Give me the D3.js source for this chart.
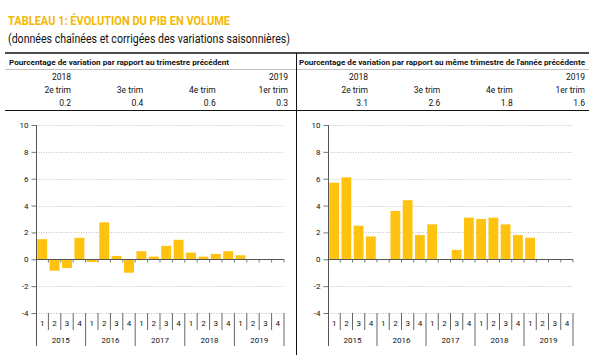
<!DOCTYPE html>
<html>
<head>
<meta charset="utf-8">
<script src="https://cdn.jsdelivr.net/npm/d3@7"></script>
<style>
  html, body { margin: 0; padding: 0; background: #fff; }
  svg { display: block; font-family: Roboto, "Liberation Sans", sans-serif; }
</style>
</head>
<body>
<svg id="chart" width="600" height="355"></svg>
<script>
// ---------- DATA ----------
const titleText = "TABLEAU 1: ÉVOLUTION DU PIB EN VOLUME";
const subtitleText = "(données chaînées et corrigées des variations saisonnières)";
const panelTitles = [
  "Pourcentage de variation par rapport au trimestre précédent",
  "Pourcentage de variation par rapport au même trimestre de l'année précédente"
];
const tableYears = ["2018", "", "", "2019"];
const tableQuarters = ["2e trim", "3e trim", "4e trim", "1er trim"];
const tableQoq = [0.2, 0.4, 0.6, 0.3];
const tableYoy = [3.1, 2.6, 1.8, 1.6];

const quarters = ["1", "2", "3", "4"];
const years = ["2015", "2016", "2017", "2018", "2019"];
// quarter-over-quarter % change, 2015Q1 .. 2019Q4
const qoqValues = [1.5, -0.85, -0.65, 1.6, -0.2, 2.75, 0.25, -1.0, 0.6, 0.2, 1.0, 1.45, 0.5, 0.2, 0.4, 0.6, 0.3, null, null, null];
// year-over-year % change, 2015Q1 .. 2019Q4
const yoyValues = [5.7, 6.1, 2.5, 1.7, 0, 3.6, 4.4, 1.8, 2.6, 0, 0.7, 3.1, 3.0, 3.1, 2.6, 1.8, 1.6, null, null, null];
const yTicks = [-4, -2, 0, 2, 4, 6, 8, 10];

// ---------- STYLE ----------
const gold = "#F5B800";
const barColor = "#FFC20E";
const ink = "#111";

const svg = d3.select("#chart");

// Title
svg.append("text").attr("x", 8).attr("y", 25)
  .attr("font-size", 13).attr("font-weight", "bold").attr("fill", gold)
  .attr("textLength", 222).attr("lengthAdjust", "spacingAndGlyphs")
  .text(titleText);
svg.append("text").attr("x", 8).attr("y", 43)
  .attr("font-size", 12.5).attr("fill", "#111")
  .attr("textLength", 282).attr("lengthAdjust", "spacingAndGlyphs")
  .text(subtitleText);

// Table rules
svg.append("line").attr("x1", 5).attr("x2", 589).attr("y1", 53).attr("y2", 53)
  .attr("stroke", "#111").attr("stroke-width", 1.3);
svg.append("line").attr("x1", 5).attr("x2", 589).attr("y1", 69.5).attr("y2", 69.5)
  .attr("stroke", "#999").attr("stroke-width", 0.6);
svg.append("line").attr("x1", 5).attr("x2", 589).attr("y1", 110.5).attr("y2", 110.5)
  .attr("stroke", "#111").attr("stroke-width", 1);
svg.append("line").attr("x1", 296.5).attr("x2", 296.5).attr("y1", 53).attr("y2", 355)
  .attr("stroke", "#111").attr("stroke-width", 1);

const panels = [
  { headerX: 9, headerW: 220, colRange: [71, 288], tableVals: tableQoq, values: qoqValues, plotX: [36, 284] },
  { headerX: 299, headerW: 286, colRange: [368, 585], tableVals: tableYoy, values: yoyValues, plotX: [328, 573] }
];

const y = d3.scaleLinear().domain([-4, 10]).range([313, 125]);

panels.forEach((p, pi) => {
  const g = svg.append("g");
  // header
  g.append("text").attr("x", p.headerX).attr("y", 65)
    .attr("font-size", 8).attr("font-weight", "bold").attr("fill", "#111")
    .attr("textLength", p.headerW).attr("lengthAdjust", "spacingAndGlyphs")
    .text(panelTitles[pi]);

  const col = d3.scalePoint().domain(d3.range(4)).range(p.colRange);
  const rows = [
    { y: 80, vals: tableYears },
    { y: 93, vals: tableQuarters },
    { y: 106, vals: p.tableVals.map(v => v.toFixed(1)) }
  ];
  rows.forEach(r => {
    g.selectAll(null).data(r.vals).join("text")
      .attr("x", (d, i) => col(i)).attr("y", r.y)
      .attr("text-anchor", "end").attr("font-size", 8.5).attr("fill", ink)
      .text(d => d);
  });

  // chart
  const idx = d3.range(20);
  const x = d3.scaleBand().domain(idx).range(p.plotX).paddingInner(0.2).paddingOuter(0.1);
  const x0 = p.plotX[0], x1 = p.plotX[1];
  const step = x.step();

  // gridlines
  g.selectAll(null).data(yTicks.filter(t => t !== 0)).join("line")
    .attr("x1", x0).attr("x2", x1)
    .attr("y1", d => Math.round(y(d)) + 0.5).attr("y2", d => Math.round(y(d)) + 0.5)
    .attr("stroke", "#aaa").attr("stroke-width", 0.7).attr("stroke-dasharray", "1,1.5");

  // y axis
  const yAxis = d3.axisLeft(y).tickValues(yTicks).tickSize(5).tickPadding(3)
    .tickFormat(d => d.toString());
  const ya = g.append("g").attr("transform", `translate(${x0 + 0.5},0)`).call(yAxis);
  ya.select(".domain").remove();
  ya.selectAll(".tick line").attr("stroke", "#555").attr("stroke-width", 0.8);
  ya.selectAll(".tick text").attr("font-size", 8).attr("fill", ink)
    .attr("font-family", "Roboto, 'Liberation Sans', sans-serif");
  g.append("line").attr("x1", x0 + 0.5).attr("x2", x0 + 0.5).attr("y1", y(10)).attr("y2", 346)
    .attr("stroke", "#555").attr("stroke-width", 1);

  // bars
  g.selectAll(null).data(p.values.map((v, i) => ({ v, i })).filter(d => d.v !== null)).join("rect")
    .attr("x", d => x(d.i)).attr("width", x.bandwidth())
    .attr("y", d => y(Math.max(0, d.v)))
    .attr("height", d => Math.abs(y(d.v) - y(0)))
    .attr("fill", barColor);

  // zero baseline with small ticks
  const zy = Math.round(y(0)) + 0.5;
  g.append("line").attr("x1", x0).attr("x2", x1).attr("y1", zy).attr("y2", zy)
    .attr("stroke", "#555").attr("stroke-width", 1);
  g.selectAll(null).data(d3.range(1, 21)).join("line")
    .attr("x1", d => x0 + d * step).attr("x2", d => x0 + d * step)
    .attr("y1", zy).attr("y2", zy + 3)
    .attr("stroke", "#555").attr("stroke-width", 0.8);

  // category separators
  const yb = y(-4);
  g.selectAll(null).data(d3.range(1, 21)).join("line")
    .attr("x1", d => x0 + d * step).attr("x2", d => x0 + d * step)
    .attr("y1", yb).attr("y2", d => d % 4 === 0 ? 346 : 330)
    .attr("stroke", "#555").attr("stroke-width", 0.9);

  // quarter labels
  g.selectAll(null).data(idx).join("text")
    .attr("x", d => x(d) + x.bandwidth() / 2).attr("y", 326)
    .attr("text-anchor", "middle").attr("font-size", 8).attr("fill", ink)
    .text(d => quarters[d % 4]);

  // year labels
  const yearBand = d3.scaleBand().domain(years).range([x0, x0 + 20 * step]);
  g.selectAll(null).data(years).join("text")
    .attr("x", d => yearBand(d) + yearBand.bandwidth() / 2).attr("y", 343)
    .attr("text-anchor", "middle").attr("font-size", 8).attr("fill", ink)
    .text(d => d);
});
</script>
</body>
</html>
